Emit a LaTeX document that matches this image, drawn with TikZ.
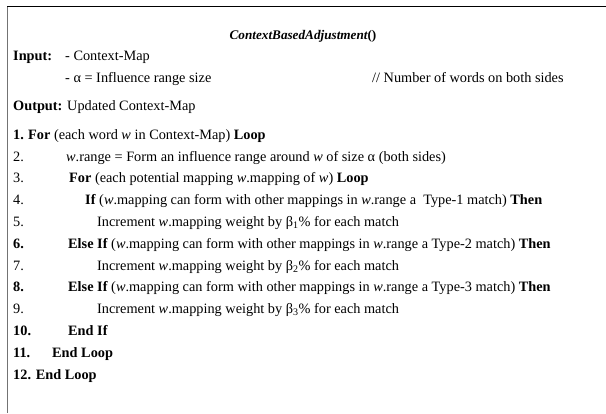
\documentclass[tikz,border=0pt]{standalone}
\usepackage{fontspec}
\setmainfont{Liberation Serif}
\usepackage{tikz}

\begin{document}
\begin{tikzpicture}[x=1pt, y=-1pt,
	txt/.style={anchor=base west, inner sep=0pt, font=\fontsize{14.3}{16}\selectfont},
	num/.style={txt},
	headline/.style={anchor=base, inner sep=0pt, font=\fontsize{13.2}{15}\selectfont\bfseries\itshape},
	frameline/.style={line width=1.3pt, black},
	sideline/.style={line width=0.9pt, black!55}]
\useasboundingbox (0,0) rectangle (606,413);
\coordinate (tl) at (7,6.5);
\coordinate (tr) at (606,6.5);
\coordinate (bl) at (7,413);
\draw[frameline] (tl) -- (tr);
\draw[sideline] (tl) -- (bl);

\node[headline] (title) at (303,39) {ContextBasedAdjustment\upshape()};
\node[txt] (inlab) at (13,60) {\textbf{Input:}};
\node[txt] (in1) at (65,60) {- Context-Map};
\node[txt] (in2) at (65,82) {- α = Influence range size};
\node[txt] (incom) at (372,82) {// Number of words on both sides};
\node[txt] (outlab) at (13,110) {\textbf{Output:} Updated Context-Map};

% numbered lines
\node[num] (l1) at (13,139) {\textbf{1.}};
\node[txt] (t1) at (28,139) {\textbf{For} (each word \textit{w} in Context-Map) \textbf{Loop}};
\node[num] (l2) at (13,161) {2.};
\node[txt] (t2) at (66,161) {\textit{w}.range = Form an influence range around \textit{w} of size α (both sides)};
\node[num] (l3) at (13,182.6) {3.};
\node[txt] (t3) at (69,182.6) {\textbf{For} (each potential mapping \textit{w}.mapping of \textit{w}) \textbf{Loop}};
\node[num] (l4) at (13,204.4) {4.};
\node[txt] (t4) at (85,204.4) {\textbf{If} (\textit{w}.mapping can form with other mappings in \textit{w}.range a\ \ Type-1 match) \textbf{Then}};
\node[num] (l5) at (13,226) {5.};
\node[txt] (t5) at (97,226) {Increment \textit{w}.mapping weight by β\textsubscript{1}\% for each match};
\node[num] (l6) at (13,248) {\textbf{6.}};
\node[txt] (t6) at (68,248) {\textbf{Else If} (\textit{w}.mapping can form with other mappings in \textit{w}.range a Type-2 match) \textbf{Then}};
\node[num] (l7) at (13,270) {7.};
\node[txt] (t7) at (97,270) {Increment \textit{w}.mapping weight by β\textsubscript{2}\% for each match};
\node[num] (l8) at (13,291.6) {\textbf{8.}};
\node[txt] (t8) at (68,291.6) {\textbf{Else If} (\textit{w}.mapping can form with other mappings in \textit{w}.range a Type-3 match) \textbf{Then}};
\node[num] (l9) at (13,313.4) {9.};
\node[txt] (t9) at (97,313.4) {Increment \textit{w}.mapping weight by β\textsubscript{3}\% for each match};
\node[num] (l10) at (13,335) {\textbf{10.}};
\node[txt] (t10) at (68,335) {\textbf{End If}};
\node[num] (l11) at (13,357) {\textbf{11.}};
\node[txt] (t11) at (52,357) {\textbf{End Loop}};
\node[txt] (l12) at (13,379) {\textbf{12. End Loop}};
\end{tikzpicture}
\end{document}
